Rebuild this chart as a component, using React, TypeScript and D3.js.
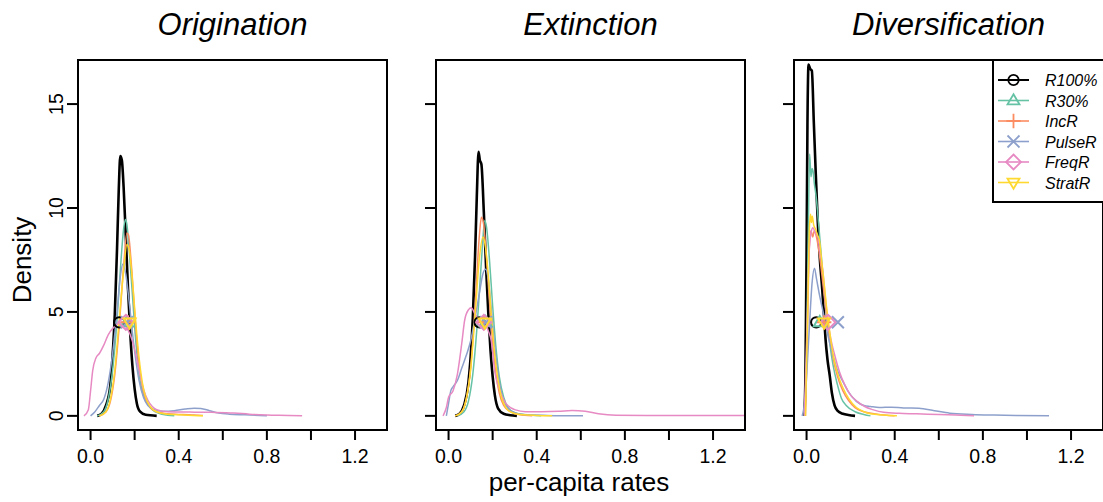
import React from "react";
import * as d3 from "d3";

// ---------- data ----------
const seriesNames = ["R100%", "R30%", "IncR", "PulseR", "FreqR", "StratR"];
const seriesColors = ["#000000", "#66C2A5", "#FC8D62", "#8DA0CB", "#E78AC3", "#FFD92F"];
const panelTitles = ["Origination", "Extinction", "Diversification"];
const xTicks = [0, 0.2, 0.4, 0.6, 0.8, 1.0, 1.2];
const xTickLabels = ["0.0", "", "0.4", "", "0.8", "", "1.2"];
const yTicks = [0, 5, 10, 15];
const markerDensity = 4.5;

// Origination densities [rate, density]
const origR100: [number, number][] = [[0.03,0],[0.05,0.1],[0.07,0.5],[0.09,1.5],[0.10,2.9],[0.11,4.9],[0.12,8.0],[0.128,10.9],[0.135,12.5],[0.142,12.3],[0.15,11.0],[0.16,8.6],[0.17,6.1],[0.18,4.0],[0.19,2.4],[0.20,1.3],[0.21,0.6],[0.225,0.2],[0.25,0.05],[0.30,0]];
const origR30: [number, number][] = [[0.03,0],[0.06,0.2],[0.08,0.8],[0.10,2.2],[0.12,4.6],[0.135,7.0],[0.15,9.0],[0.158,9.45],[0.165,9.2],[0.175,8.0],[0.19,5.8],[0.205,3.6],[0.22,2.0],[0.24,1.0],[0.26,0.55],[0.28,0.3],[0.31,0.12],[0.35,0.03],[0.38,0]];
const origIncR: [number, number][] = [[0.04,0],[0.07,0.2],[0.09,0.7],[0.11,2.0],[0.13,4.3],[0.15,7.2],[0.165,8.8],[0.172,8.7],[0.185,7.3],[0.20,5.0],[0.215,3.0],[0.23,1.7],[0.25,0.8],[0.27,0.4],[0.30,0.2],[0.35,0.1],[0.42,0.06],[0.51,0.02]];
const origPulseR: [number, number][] = [[0.0,0],[0.02,0.2],[0.04,0.5],[0.06,0.8],[0.08,1.6],[0.10,3.0],[0.12,5.0],[0.135,6.7],[0.147,7.3],[0.16,6.8],[0.175,5.5],[0.19,4.0],[0.205,2.7],[0.22,1.7],[0.24,0.9],[0.26,0.5],[0.29,0.3],[0.33,0.22],[0.38,0.25],[0.43,0.33],[0.47,0.37],[0.50,0.36],[0.54,0.25],[0.58,0.14],[0.63,0.08],[0.70,0.05],[0.80,0]];
const origFreqR: [number, number][] = [[-0.03,0],[-0.01,0.3],[0.0,1.2],[0.01,2.2],[0.025,2.8],[0.04,3.0],[0.06,3.4],[0.08,3.9],[0.10,4.2],[0.12,4.4],[0.14,4.5],[0.16,4.3],[0.18,3.9],[0.20,3.2],[0.22,2.2],[0.24,1.3],[0.26,0.75],[0.28,0.45],[0.30,0.3],[0.35,0.2],[0.45,0.18],[0.55,0.17],[0.65,0.14],[0.72,0.08],[0.80,0.04],[0.90,0.02],[0.96,0]];
const origStratR: [number, number][] = [[0.04,0],[0.07,0.2],[0.09,0.8],[0.11,2.2],[0.13,4.6],[0.15,7.0],[0.165,8.25],[0.175,8.0],[0.19,6.5],[0.205,4.5],[0.22,2.8],[0.235,1.6],[0.25,0.9],[0.27,0.45],[0.30,0.2],[0.35,0.08],[0.42,0.04],[0.51,0]];
const origMeans = [0.13, 0.165, 0.17, 0.165, 0.16, 0.177];

// Extinction densities
const extR100: [number, number][] = [[0.03,0],[0.05,0.1],[0.07,0.5],[0.09,1.6],[0.10,2.8],[0.11,4.7],[0.12,7.6],[0.128,10.5],[0.136,12.7],[0.142,12.3],[0.149,12.1],[0.16,9.8],[0.17,7.2],[0.18,5.0],[0.19,3.2],[0.20,1.9],[0.21,1.0],[0.225,0.35],[0.25,0.1],[0.28,0.03],[0.31,0]];
const extR30: [number, number][] = [[0.04,0],[0.07,0.2],[0.09,0.7],[0.11,2.0],[0.13,4.4],[0.15,7.6],[0.164,9.4],[0.172,9.1],[0.185,7.6],[0.20,5.3],[0.215,3.3],[0.23,1.9],[0.25,0.9],[0.27,0.4],[0.30,0.15],[0.35,0.05],[0.42,0]];
const extIncR: [number, number][] = [[0.03,0],[0.06,0.2],[0.08,0.8],[0.10,2.3],[0.12,5.2],[0.14,8.7],[0.149,9.55],[0.158,9.3],[0.17,7.9],[0.185,5.6],[0.20,3.5],[0.215,2.0],[0.23,1.1],[0.25,0.5],[0.28,0.2],[0.32,0.06],[0.38,0]];
const extPulseR: [number, number][] = [[-0.01,0],[0.0,0.6],[0.01,1.2],[0.02,1.4],[0.04,1.7],[0.06,2.3],[0.08,2.9],[0.10,3.6],[0.12,4.7],[0.14,5.9],[0.155,6.8],[0.168,7.05],[0.18,6.6],[0.195,5.0],[0.21,3.3],[0.225,2.0],[0.24,1.1],[0.26,0.5],[0.29,0.2],[0.34,0.06],[0.45,0.02],[0.61,0]];
const extFreqR: [number, number][] = [[-0.025,0],[-0.01,0.4],[0.0,0.9],[0.02,1.2],[0.04,2.0],[0.06,3.5],[0.073,4.6],[0.09,5.1],[0.103,5.2],[0.12,4.9],[0.14,4.6],[0.164,4.5],[0.18,4.1],[0.194,3.6],[0.21,2.1],[0.23,1.3],[0.26,0.6],[0.30,0.3],[0.35,0.2],[0.42,0.2],[0.50,0.22],[0.56,0.26],[0.62,0.22],[0.68,0.1],[0.76,0.03],[0.90,0.02],[1.10,0.02],[1.40,0.02]];
const extStratR: [number, number][] = [[0.03,0],[0.06,0.2],[0.08,0.8],[0.10,2.2],[0.12,4.8],[0.14,7.6],[0.156,8.6],[0.165,8.3],[0.18,6.8],[0.195,4.7],[0.21,2.9],[0.225,1.7],[0.24,0.9],[0.26,0.4],[0.29,0.15],[0.34,0.05],[0.40,0.02],[0.47,0]];
const extMeans = [0.141, 0.168, 0.16, 0.17, 0.16, 0.164];

// Diversification densities
const divR100: [number, number][] = [[-0.01,0],[-0.005,2.0],[0.0,7.7],[0.004,14.0],[0.009,16.9],[0.016,16.7],[0.024,16.6],[0.033,14.1],[0.042,11.6],[0.051,9.3],[0.06,7.6],[0.071,6.1],[0.08,4.7],[0.086,3.7],[0.095,2.7],[0.105,1.95],[0.115,1.1],[0.127,0.5],[0.14,0.25],[0.165,0.1],[0.19,0.04],[0.22,0]];
const divR30: [number, number][] = [[-0.01,0],[0.0,3.0],[0.008,9.0],[0.014,12.6],[0.02,11.5],[0.025,11.9],[0.029,11.8],[0.035,11.2],[0.044,10.5],[0.055,9.2],[0.067,7.7],[0.078,6.2],[0.09,4.85],[0.105,3.5],[0.12,2.45],[0.14,1.5],[0.158,0.85],[0.18,0.5],[0.22,0.2],[0.26,0.07],[0.29,0]];
const divIncR: [number, number][] = [[-0.005,0],[0.005,4.5],[0.012,8.0],[0.02,8.9],[0.028,8.6],[0.035,8.9],[0.045,8.6],[0.055,8.0],[0.065,7.2],[0.078,6.0],[0.09,4.9],[0.105,3.8],[0.12,2.8],[0.14,1.9],[0.165,1.2],[0.19,0.75],[0.22,0.4],[0.26,0.2],[0.32,0.08],[0.40,0]];
const divPulseR: [number, number][] = [[-0.02,0],[-0.005,1.0],[0.005,2.8],[0.014,4.5],[0.025,6.4],[0.036,7.1],[0.045,6.6],[0.059,5.8],[0.075,5.0],[0.09,4.2],[0.105,3.5],[0.12,2.9],[0.14,2.2],[0.165,1.65],[0.19,1.15],[0.226,0.7],[0.26,0.5],[0.29,0.45],[0.33,0.4],[0.385,0.42],[0.44,0.38],[0.51,0.37],[0.58,0.25],[0.65,0.13],[0.75,0.07],[0.85,0.04],[0.95,0.02],[1.10,0]];
const divFreqR: [number, number][] = [[-0.01,0],[0.0,3.5],[0.01,7.5],[0.02,8.8],[0.029,9.05],[0.04,8.8],[0.051,8.6],[0.062,7.8],[0.074,6.95],[0.085,5.7],[0.097,4.55],[0.11,3.7],[0.127,2.95],[0.15,2.1],[0.173,1.5],[0.20,1.0],[0.23,0.7],[0.264,0.45],[0.30,0.3],[0.35,0.17],[0.42,0.12],[0.50,0.1],[0.60,0.06],[0.70,0.03],[0.76,0]];
const divStratR: [number, number][] = [[-0.005,0],[0.005,5.0],[0.012,8.8],[0.018,9.7],[0.022,9.3],[0.026,9.6],[0.032,9.2],[0.04,9.0],[0.05,8.7],[0.059,8.4],[0.07,7.3],[0.082,6.15],[0.093,5.0],[0.105,4.05],[0.115,3.3],[0.127,2.6],[0.145,1.9],[0.165,1.35],[0.19,0.85],[0.226,0.4],[0.26,0.2],[0.29,0.1],[0.35,0.04],[0.41,0]];
const divMeans = [0.044, 0.06, 0.08, 0.142, 0.097, 0.079];

const panelSeries = [
  [origR100, origR30, origIncR, origPulseR, origFreqR, origStratR],
  [extR100, extR30, extIncR, extPulseR, extFreqR, extStratR],
  [divR100, divR30, divIncR, divPulseR, divFreqR, divStratR],
];
const panelMeans = [origMeans, extMeans, divMeans];

// ---------- layout ----------
const W = 1103, H = 502;
const panelLefts = [78, 436, 794];
const panelW = 309;
const top = 60, bottom = 430;
const FONT = "'Liberation Sans', Arial, Helvetica, sans-serif";

function Marker({ kind, cx, cy, color, sw = 2 }: { kind: number; cx: number; cy: number; color: string; sw?: number }) {
  const common = { fill: "none", stroke: color, strokeWidth: sw };
  const s = 6;
  switch (kind) {
    case 0:
      return <circle cx={cx} cy={cy} r={5.2} {...common} />;
    case 1:
      return <path d={`M${cx},${cy - s * 1.05}L${cx + s},${cy + s * 0.65}L${cx - s},${cy + s * 0.65}Z`} {...common} />;
    case 2:
      return <path d={`M${cx - s * 1.2},${cy}H${cx + s * 1.2}M${cx},${cy - s * 1.2}V${cy + s * 1.2}`} {...common} />;
    case 3:
      return <path d={`M${cx - s},${cy - s}L${cx + s},${cy + s}M${cx - s},${cy + s}L${cx + s},${cy - s}`} {...common} />;
    case 4:
      return <path d={`M${cx},${cy - s * 1.25}L${cx + s * 1.25},${cy}L${cx},${cy + s * 1.25}L${cx - s * 1.25},${cy}Z`} {...common} />;
    default:
      return <path d={`M${cx},${cy + s * 1.05}L${cx + s},${cy - s * 0.65}L${cx - s},${cy - s * 0.65}Z`} {...common} />;
  }
}

function Panel({ idx }: { idx: number }) {
  const left = panelLefts[idx];
  const right = left + panelW;
  const x = d3.scaleLinear().domain([-0.057, 1.345]).range([left, right]);
  const y = d3.scaleLinear().domain([-0.68, 17.12]).range([bottom, top]);
  const line = d3
    .line<[number, number]>()
    .x((d) => x(d[0]))
    .y((d) => y(d[1]))
    .curve(d3.curveMonotoneX);
  const clipId = `clip${idx}`;
  const series = panelSeries[idx];
  const means = panelMeans[idx];
  return (
    <g>
      <defs>
        <clipPath id={clipId}>
          <rect x={left} y={top} width={panelW} height={bottom - top} />
        </clipPath>
      </defs>
      <text x={(left + right) / 2} y={35} textAnchor="middle" fontSize={31} fontStyle="italic" fontFamily={FONT}>
        {panelTitles[idx]}
      </text>
      <g clipPath={`url(#${clipId})`}>
        {series.map((s, i) => (
          <path key={i} d={line(s) || ""} fill="none" stroke={seriesColors[i]} strokeWidth={i === 0 ? 2.6 : 1.5} strokeLinejoin="round" />
        ))}
        {means.map((m, i) => (
          <Marker key={i} kind={i} cx={x(m)} cy={y(markerDensity)} color={seriesColors[i]} />
        ))}
      </g>
      <rect x={left} y={top} width={panelW} height={bottom - top} fill="none" stroke="#000" strokeWidth={2} />
      {xTicks.map((t, i) => (
        <g key={i}>
          <line x1={x(t)} x2={x(t)} y1={bottom} y2={bottom + 10} stroke="#000" strokeWidth={2} />
          {xTickLabels[i] && (
            <text x={x(t)} y={463} textAnchor="middle" fontSize={19.5} fontFamily={FONT}>
              {xTickLabels[i]}
            </text>
          )}
        </g>
      ))}
      {yTicks.map((t) => (
        <g key={t}>
          <line x1={left - 11} x2={left} y1={y(t)} y2={y(t)} stroke="#000" strokeWidth={2} />
          {idx === 0 && (
            <text
              transform={`translate(${left - 15},${y(t)}) rotate(-90)`}
              textAnchor="middle"
              fontSize={19.5}
              fontFamily={FONT}
            >
              {t}
            </text>
          )}
        </g>
      ))}
    </g>
  );
}

function Legend() {
  const lx = 993, ly = 60;
  const rows = [80, 100.5, 121, 141.5, 162, 182.5];
  return (
    <g>
      <rect x={lx} y={ly} width={130} height={142} fill="#fff" stroke="#000" strokeWidth={2} />
      {seriesNames.map((n, i) => (
        <g key={n}>
          <line x1={998} x2={1029} y1={rows[i]} y2={rows[i]} stroke={seriesColors[i]} strokeWidth={i === 0 ? 2 : 1.6} />
          <Marker kind={i} cx={1013.5} cy={rows[i]} color={seriesColors[i]} sw={1.8} />
          <text x={1045} y={rows[i] + 6} fontSize={16} fontStyle="italic" fontFamily={FONT}>
            {n}
          </text>
        </g>
      ))}
    </g>
  );
}

export default function App() {
  return (
    <svg width={W} height={H} style={{ position: "absolute", left: 0, top: 0, background: "#fff" }}>
      <rect x={0} y={0} width={W} height={H} fill="#fff" />
      {[0, 1, 2].map((i) => (
        <Panel key={i} idx={i} />
      ))}
      <Legend />
      <text transform={`translate(31,260) rotate(-90)`} textAnchor="middle" fontSize={26} fontFamily={FONT}>
        Density
      </text>
      <text x={579} y={491} textAnchor="middle" fontSize={26} fontFamily={FONT}>
        per-capita rates
      </text>
    </svg>
  );
}
